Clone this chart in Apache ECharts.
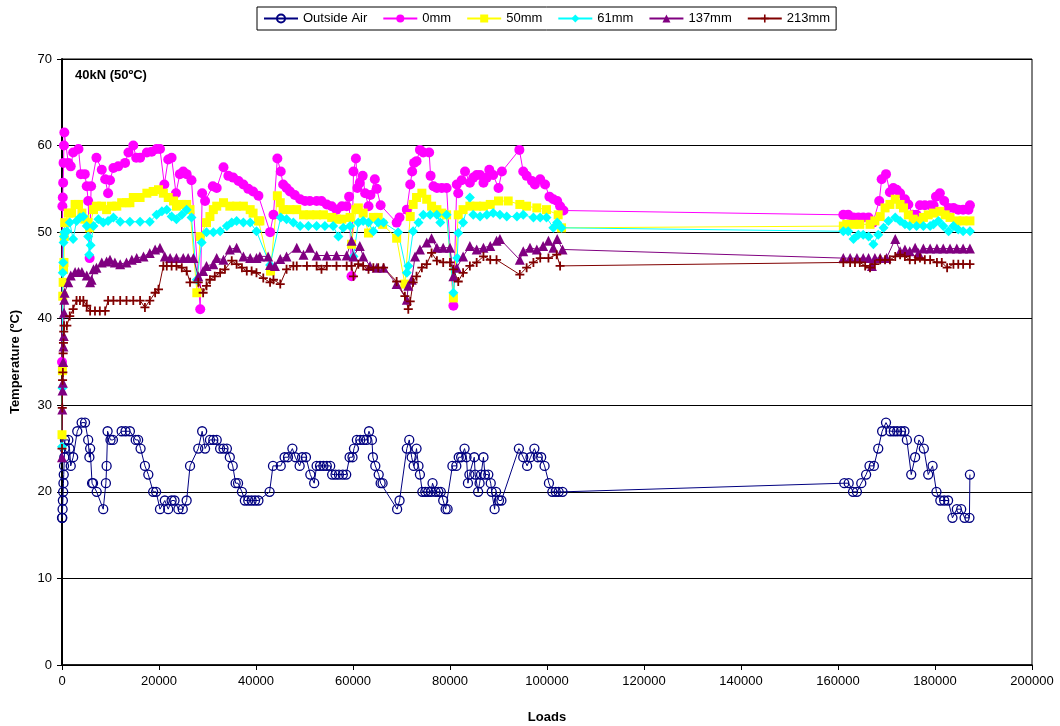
<!DOCTYPE html>
<html>
<head>
<meta charset="utf-8">
<script src="https://cdn.jsdelivr.net/npm/echarts@6/dist/echarts.min.js"></script>
<style>html,body{margin:0;padding:0;background:#fff}#c{width:1060px;height:726px}</style>
</head>
<body>
<div id="c"></div>
<script>
// ---- data (loads, temperature ºC) ----
const airLoads = [0,60,120,180,240,300,360,420,480,540,600,1300,1550,1800,2300,3150,4050,4750,5400,5650,5800,6200,6400,7150,8500,9050,9200,9400,10000,10500,12300,13100,14000,15200,15700,16200,17100,17800,18800,19400,20200,21200,21900,22600,23200,24000,24900,25700,26400,28100,28900,29500,30500,31200,31900,32600,33300,34000,34600,35200,35800,36300,37100,37700,38400,39100,39800,40500,42800,43500,45100,45900,46600,47500,48100,49000,49500,50300,51200,52000,52500,53200,53900,54600,55300,55700,56400,57100,57900,58600,59300,59900,60200,60800,61500,62200,62800,63300,63900,64100,64600,65300,65700,66100,69100,69600,71100,71600,72100,72500,73100,73500,73800,74300,74900,75500,76100,76400,77000,77600,78100,78600,79100,79500,80500,81300,81800,82300,83000,83400,83700,84000,85000,85200,85800,86100,86400,86900,87200,87900,88400,88600,89200,89500,90100,90600,94200,95100,95900,96600,97400,98100,98800,99500,100400,101100,101800,102400,103200,161300,162200,163100,163900,164800,165800,166500,167400,168300,169100,169900,170800,171500,172200,173000,173700,174200,175100,175900,176700,177700,178600,179500,180300,181100,181900,182700,183600,184500,185400,186100,187100,187200];
const airTemp  = [17,17,18,19,20,21,22,23,24,25,26,26,25,23,24,27,28,28,26,24,25,21,21,20,18,21,23,27,26,26,27,27,27,26,26,25,23,22,20,20,18,19,18,19,19,18,18,19,23,25,27,25,26,26,26,25,25,25,24,23,21,21,20,19,19,19,19,19,20,23,23,24,24,25,24,23,24,24,22,21,23,23,23,23,23,22,22,22,22,22,24,24,25,26,26,26,26,27,26,24,23,22,21,21,18,19,25,26,24,23,25,23,22,20,20,20,20,21,20,20,20,19,18,18,23,23,24,24,25,24,21,22,24,22,20,21,22,24,22,22,21,20,18,20,19,19,25,24,23,24,25,24,24,23,21,20,20,20,20,21,21,20,20,21,22,23,23,25,27,28,27,27,27,27,27,26,22,24,26,25,22,23,20,19,19,19,17,18,18,17,17,22];

const mm0Loads = [0,80,160,240,320,400,480,1300,1800,2300,3400,3900,4700,5100,5400,5700,6000,7100,8200,8900,9500,9900,10600,11600,13000,13700,14700,15300,16100,17500,18500,19500,20200,21100,21900,22600,23500,24300,25000,25700,26700,28500,28900,29500,31100,31900,33300,34300,35300,36400,37400,38400,39400,40500,42900,43600,44400,45100,45600,46300,47000,48000,49100,50100,51100,52500,53500,54600,55600,56600,57700,58700,59200,59700,60100,60600,60900,61400,62000,62500,63200,63600,64500,64900,65700,69000,69600,71100,71800,72200,72600,73100,73800,74500,75700,76000,76600,77300,78300,79300,80700,81400,81700,82400,83100,84100,84800,85500,86200,86900,87600,88100,88900,90000,90700,94300,95100,95800,96900,97500,98600,99600,100500,101300,102100,102700,103400,161100,162100,163200,164200,165200,166300,167200,168500,169000,169900,170700,171400,172100,172800,173800,174500,175400,176200,176900,177900,179000,179700,180200,181000,181900,182800,183800,184800,185800,186900,187200];
const mm0Temp  = [35,53,54,55.7,58,60,61.5,58,57.6,59.2,59.6,56.7,56.7,55.3,53.6,47,55.3,58.6,57.2,56.1,54.5,56,57.4,57.6,58,59.2,60,58.6,58.6,59.2,59.3,59.6,59.6,55.5,58.4,58.6,54.5,56.7,57,56.7,56,41.1,54.5,53.6,55.3,55.1,57.5,56.5,56.3,55.9,55.5,55,54.7,54.2,50,52,58.5,57,55.5,55.1,54.7,54.3,53.8,53.6,53.6,53.6,53.6,53.2,53,52.6,53,53,54.1,44.9,57,58.5,55.1,55.7,56.5,54.5,53,54.3,56.1,55,53.1,51.1,51.7,52.6,55.5,57,58,58.2,59.5,59.2,59.2,56.5,55.3,55.1,55.1,55.1,41.5,55.5,54.5,56,57,55.7,56.3,56.6,56.6,55.7,56.3,57.2,56.6,55.1,57,59.5,57,56.5,55.9,55.5,56.1,55.5,54.1,53.8,53.6,53,52.5,52,52,51.7,51.7,51.7,51.7,51.1,53.6,56.1,56.7,54.6,55.1,54.9,54.5,53.8,53.2,52,52,53.1,53.1,53.1,53.1,54.1,54.5,53.6,52.8,52.8,52.6,52.6,52.6,53.1];

const mm50Loads = [0,80,160,240,320,400,480,560,1300,2000,2700,3400,4100,4700,5400,5700,6500,7100,8200,9200,10200,11300,12300,13300,14000,14700,16100,17500,18800,19900,20900,21900,23000,23600,24700,25700,26400,27800,28500,29800,30500,31200,31900,33300,34600,36000,37400,38800,39400,40500,40800,43000,44400,45000,45600,47000,48400,49800,51100,52500,53900,55600,56600,57700,59400,59700,60600,61100,62100,63200,64200,65200,66100,69000,70700,71800,72400,73100,74200,75200,76200,77300,78300,79300,80700,81700,82700,84100,85500,86900,88300,90000,92000,94400,95800,97900,99900,102300,103000,161100,161800,163200,164500,166600,167600,168700,169700,170700,171800,172800,173500,174500,175500,176600,177600,178600,179700,181000,182100,183100,184500,185800,187200];
const mm50Temp  = [26.6,34,42.6,44.2,45.7,46.5,49.5,51.1,52.2,52.2,53.2,53.2,52.2,51.5,51.1,50.5,52.6,53,53,52.6,53,53,53.4,53.4,53.4,54,54,54.5,54.7,54.9,54.5,54,53.6,53,53.2,53.2,52.6,43,49.5,51.1,51.8,52.6,53,53.4,53,53,53,52.6,52.2,51.3,51.3,45.5,54.2,53.4,52.6,52.6,52.6,52,52,52,52,51.7,51.5,51.5,51.7,48.6,52.6,52.8,52.2,49.9,51.7,51.7,50.9,49.3,44,51.8,53.2,54,54.5,53.8,53,52.6,52.2,52,42.4,52,52.6,53,53,53,53.2,53.6,53.6,53.2,53,52.8,52.6,52,50.5,50.7,50.9,50.9,50.9,50.9,51.3,51.8,52.8,53.2,53.8,53.2,52.8,52,51.5,51.3,51.7,52,52.2,52.4,52,51.7,51.3,51.3,51.3];

const mm61Loads = [0,80,160,240,320,400,480,1000,1600,2300,3000,3700,4400,5100,5400,5600,5900,6500,7500,8500,9500,10600,12000,14000,16100,18100,19500,20600,21600,22600,23600,24700,25700,26700,27800,28800,29800,31200,32600,34000,35000,36000,37400,38800,40100,42900,45100,46300,47700,49100,50800,52500,54200,55900,57000,58000,59400,60100,61100,62100,63200,64200,65200,66300,69300,71100,71400,72400,73500,74500,75900,77300,78000,79300,80700,81500,81700,82700,84100,84800,86200,87600,88900,90300,91700,93800,95100,97200,98600,99900,101300,102100,103000,161100,162100,163200,164200,165200,166300,167300,168300,169400,170400,171800,172800,173800,174800,176200,177600,179000,179700,180700,181700,182800,183800,184800,185800,187200];
const mm61Temp  = [25.2,32,45.3,46.5,48.8,49.5,50,50.1,51.1,49.2,51.3,51.7,51.8,50.7,49.5,47.4,48.5,50.7,51.5,51.1,51.3,51.7,51.2,51.2,51.2,51.2,52,52.4,52.6,51.8,51.5,52,52.6,51.7,44.5,48.8,50,50,50.1,50.7,51.1,51.3,51.1,51.1,50.1,46.2,51.7,51.5,51.1,50.7,50.7,50.7,50.7,50.7,49.5,50.5,50.7,47.2,51.1,51.3,51.1,50.1,51.1,51.1,50,45.3,46.1,50.1,51.1,52,52,52,51.1,52,43,47,49.9,51.1,54,52,51.8,52,52.2,52,51.8,51.8,52,51.7,51.7,51.7,50.5,51.1,50.5,50.1,50.1,49.2,49.7,49.7,49.5,48.6,49.7,50.5,51.3,51.7,51.3,50.9,50.7,50.7,50.7,50.7,50.9,51.3,50.7,50.1,50.7,50.3,50.1,50.1];

const mm137Loads = [0,60,120,180,240,300,360,420,480,540,1300,1800,2700,3400,4100,5100,5800,6100,6500,7100,8200,9200,9900,10900,12000,13300,14400,15400,16800,18100,19200,20200,21200,22300,23600,25000,26000,27100,28100,29100,29800,31200,31900,33300,34600,36000,37400,38800,40100,40800,42500,42900,43900,45000,46300,48400,49800,51100,52500,54600,56600,58700,59700,60100,61400,62100,63500,64900,66300,69000,71100,71400,72100,72800,73800,75200,76200,77300,78600,80000,80700,81400,82700,84100,85500,86900,88300,89600,90300,94400,95100,96500,97900,99200,100300,101300,102100,103200,161100,162500,163900,165200,166300,167000,167600,168700,170000,171800,172800,173800,174800,175900,176600,177600,179000,180400,181700,183100,184500,185800,187200];
const mm137Temp  = [24,29.5,31.7,32.6,35,36.8,38,40.7,42.2,43,44.2,45,45.4,45.4,45.4,45,44.2,44.5,45.7,45.9,46.5,46.6,46.8,46.5,46.3,46.5,46.8,47,47.2,47.6,48,48.2,47.2,47,47,47,47,47,44.9,45.5,46.1,46.3,47,46.8,48,48.2,47.2,47,47,47.2,47.2,46.2,46.1,46.9,47.2,48.2,47.4,48.2,47.3,47.3,47.3,47.3,49,47.2,48.4,47.2,46.1,45.9,45.9,44,42.2,43.8,44.5,47.2,48,48.8,49.3,48.2,48.2,48.2,44.9,45.9,47.2,48.4,48,48.2,48.4,49,49.2,46.8,47.8,48.2,48,48.4,49,48.2,49.2,48,47,47,47,47,47,46.1,47,47,47,49.2,47.8,48,47.8,48.2,47.6,48.1,48.1,48.1,48.1,48.1,48.1,48.1,48.1];

const mm213Loads = [0,60,120,180,240,300,360,420,1000,1600,2300,3000,3700,4400,5100,5800,6800,7800,8900,9500,10600,12000,13300,14700,16100,17100,18100,19200,19900,20900,21600,22600,23600,24700,25700,26400,28100,29100,29800,30500,31500,32600,33600,35000,36000,37100,38100,39100,40100,41500,42900,43600,45000,46300,47700,48400,50500,52500,53500,54600,56600,58700,59700,60100,61100,62100,63200,64200,65200,66300,69000,70700,71400,71800,72400,73100,74200,75200,76200,77300,78600,80000,80700,81700,82700,84100,85500,86900,88300,89600,94400,95800,97200,98600,100300,102000,102700,161100,162500,163500,164500,165600,166600,167600,168700,169700,170700,171800,172800,173800,174800,175900,176900,177900,179000,180400,181400,182500,183800,184800,185800,187200];
const mm213Temp  = [25,29.7,32.9,33.8,36,37.2,38.5,39.2,39.2,40.3,41.1,42.1,42.1,42.1,41.5,40.9,40.9,40.9,40.9,42.1,42.1,42.1,42.1,42.1,42.1,41.3,42.1,43,43.4,46.1,46.1,46.1,46.1,45.9,45.5,44.2,44.2,43,43.8,44.5,44.9,45.3,45.7,46.7,46.3,45.9,45.5,45.5,45.3,44.7,44.2,44.5,44,45.7,46.1,46.1,46.1,46.1,45.7,46.1,46.1,46.1,46.1,44.9,46.3,46.1,45.7,45.9,45.9,45.9,44.3,42.6,41.1,42,44.2,44.9,45.9,46.3,47.6,46.7,46.5,46.5,45.7,44.3,45.3,46.1,46.5,47.2,46.8,46.8,45.1,45.9,46.5,47,47,47.4,46.1,46.5,46.5,46.5,46.5,46.1,45.9,46.3,46.8,46.8,46.8,47.2,47.4,47.2,46.8,46.8,47,46.8,46.8,46.5,46.5,45.9,46.3,46.3,46.3,46.3];

const seriesNames = ['Outside Air','0mm','50mm','61mm','137mm','213mm'];

function pairs(xs, ys){ return xs.map((x,i)=>[x, ys[i]]); }

const FONT = 'Liberation Sans, Arial, sans-serif';
const plusPath = 'path://M4,0h2v4h4v2h-4v4h-2v-4h-4v-2h4z';

const chart = echarts.init(document.getElementById('c'), null, {renderer:'canvas'});
const mk = (name, xs, ys, color, symbol, size, extra) => Object.assign({
  name, type:'line', data: pairs(xs, ys),
  showSymbol:true, showAllSymbol:true, symbol, symbolSize:size,
  lineStyle:{color, width:1}, itemStyle:{color},
  emphasis:{disabled:true}, animation:false
}, extra||{});

chart.setOption({
  animation:false,
  textStyle:{fontFamily:FONT},
  title:{text:'40kN (50ºC)', left:70, top:64, textStyle:{fontSize:13, fontWeight:'bold', color:'#000', fontFamily:FONT}},
  legend:{
    top:7, left:257, data:seriesNames,
    borderColor:'#000', borderWidth:1, padding:[5,6,5,6],
    itemWidth:34, itemHeight:10, itemGap:15,
    textStyle:{fontSize:13, color:'#000', fontFamily:FONT}
  },
  grid:{left:62, right:28, top:59, bottom:61, show:true, borderColor:'#000', borderWidth:1, outerBoundsMode:'none', containLabel:false},
  xAxis:{
    type:'value', min:0, max:200000, interval:20000,
    name:'Loads', nameLocation:'middle', nameGap:46,
    nameTextStyle:{fontSize:13, fontWeight:'bold', color:'#000', fontFamily:FONT},
    axisLine:{show:true, onZero:false, lineStyle:{color:'#000', width:1.5}},
    axisTick:{show:true, inside:false, length:5, lineStyle:{color:'#000'}},
    axisLabel:{color:'#000', fontSize:13, margin:10, fontFamily:FONT, formatter:(v)=>String(v)},
    splitLine:{show:false}
  },
  yAxis:{
    type:'value', min:0, max:70, interval:10,
    name:'Temperature (ºC)', nameLocation:'middle', nameGap:40,
    nameTextStyle:{fontSize:13, fontWeight:'bold', color:'#000', fontFamily:FONT},
    axisLine:{show:true, onZero:false, lineStyle:{color:'#000', width:2}},
    axisTick:{show:true, inside:false, length:5, lineStyle:{color:'#000'}},
    axisLabel:{color:'#000', fontSize:13, margin:10, fontFamily:FONT},
    splitLine:{show:true, lineStyle:{color:'#000', width:1}}
  },
  series:[
    mk('Outside Air', airLoads, airTemp, '#000080', 'circle', 9,
       {itemStyle:{color:'rgba(255,255,255,0)', borderColor:'#000080', borderWidth:1.3}}),
    mk('0mm', mm0Loads, mm0Temp, '#FF00FF', 'circle', 10),
    mk('50mm', mm50Loads, mm50Temp, '#FFFF00', 'rect', 9),
    mk('61mm', mm61Loads, mm61Temp, '#00FFFF', 'diamond', 10),
    mk('137mm', mm137Loads, mm137Temp, '#800080', 'triangle', 10),
    mk('213mm', mm213Loads, mm213Temp, '#800000', plusPath, 9)
  ]
});
</script>
</body>
</html>
